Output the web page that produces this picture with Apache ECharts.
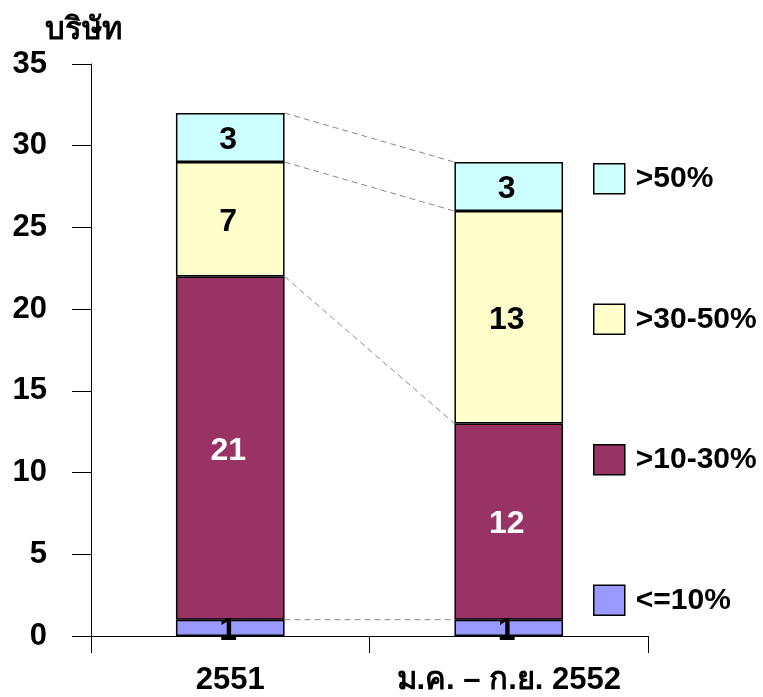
<!DOCTYPE html>
<html><head><meta charset="utf-8">
<script src="https://cdn.jsdelivr.net/npm/echarts@6/dist/echarts.min.js"></script>
<style>html,body{margin:0;padding:0;background:#fff}#c{width:763px;height:697px}</style>
</head><body><div id="c"></div>
<script>
const categories = ['2551', 'ม.ค. – ก.ย. 2552'];
const seriesNames = ['<=10%', '>10-30%', '>30-50%', '>50%'];
const le10 = [1, 1];
const g10to30 = [21, 12];
const g30to50 = [7, 13];
const gt50 = [3, 3];
const yTicks = {min: 0, max: 35, interval: 5};

const values = [le10, g10to30, g30to50, gt50];
const colors = ['#9999FF', '#993366', '#FFFFCC', '#CCFFFF'];
const labelColors = ['#000', '#fff', '#000', '#000'];
const FONT = '"Liberation Sans", Arial, sans-serif';
const BARW = 0.39;

const barSeries = seriesNames.map((n, i) => ({
  name: n, type: 'bar', stack: 'a', barWidth: (BARW*100)+'%', data: values[i],
  itemStyle: {color: colors[i], borderColor: '#000', borderWidth: 1.5},
  label: {show: true, position: 'inside', offset: [-2, 3], color: labelColors[i], fontSize: 32, fontWeight: 'bold', fontFamily: FONT},
  z: 3
}));

const connData = [];
let c1 = 0, c2 = 0;
values.forEach(v => { c1 += v[0]; c2 += v[1]; connData.push([0, c1, c2]); });

const connector = {
  type: 'custom', name: 'conn', z: 1, silent: true,
  encode: {x: 0, y: 1},
  data: connData,
  renderItem: function (params, api) {
    const p1 = api.coord([0, api.value(1)]);
    const p2 = api.coord([1, api.value(2)]);
    const bw = api.size([1, 0])[0] * BARW;
    return {type: 'line', shape: {x1: p1[0] + bw/2, y1: p1[1], x2: p2[0] - bw/2, y2: p2[1]},
      style: {stroke: '#888', lineWidth: 1, lineDash: [6, 4]}};
  }
};

const chart = echarts.init(document.getElementById('c'));
chart.setOption({
  animation: false,
  backgroundColor: '#fff',
  title: {text: 'บริษัท', left: 40, top: 10, textStyle: {fontSize: 31, fontWeight: 'bold', color: '#000', fontFamily: FONT}},
  grid: {left: 91, right: 115, top: 64, bottom: 61},
  legend: {
    orient: 'vertical', left: 588, top: 158,
    data: ['>50%', '>30-50%', '>10-30%', '<=10%'],
    itemWidth: 31, itemHeight: 30, itemGap: 109, icon: 'rect',
    itemStyle: {borderColor: '#000', borderWidth: 1.5},
    textStyle: {fontSize: 30, fontWeight: 'bold', color: '#000', fontFamily: FONT, padding: [0, 0, 0, 6]}
  },
  xAxis: {
    type: 'category', data: categories,
    axisLine: {lineStyle: {color: '#000', width: 1}},
    axisTick: {show: true, length: 17, lineStyle: {color: '#000'}},
    axisLabel: {interval: 0, hideOverlap: false, fontSize: 31, fontWeight: 'bold', color: '#000', fontFamily: FONT, margin: 29}
  },
  yAxis: {
    type: 'value', min: yTicks.min, max: yTicks.max, interval: yTicks.interval,
    splitLine: {show: false},
    axisLine: {show: true, lineStyle: {color: '#000', width: 1}},
    axisTick: {show: true, length: 19, lineStyle: {color: '#000'}},
    axisLabel: {fontSize: 31, fontWeight: 'bold', color: '#000', fontFamily: FONT, margin: 44}
  },
  series: [...barSeries, connector]
});
</script></body></html>
